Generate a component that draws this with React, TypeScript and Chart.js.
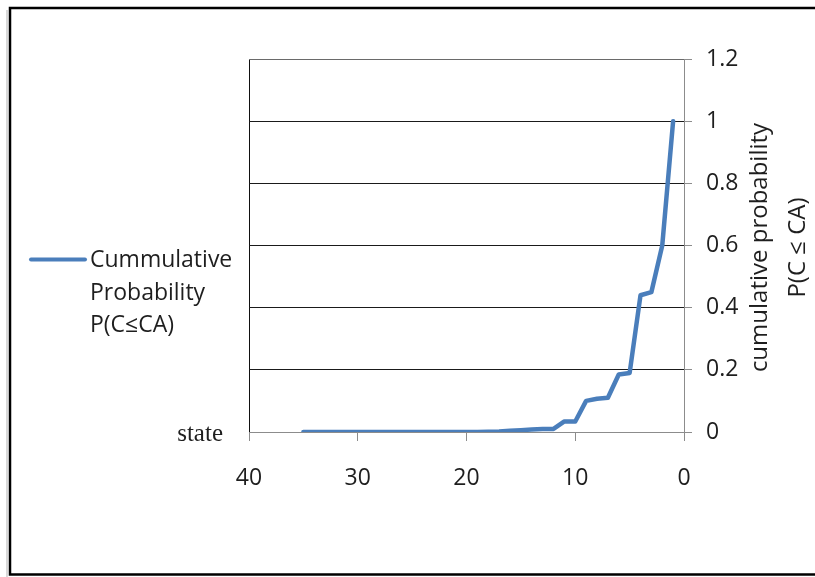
import React, { useEffect, useRef } from "react";
import { Chart, registerables } from "chart.js";

Chart.register(...registerables);

// Data
const stateValues: number[] = [
  1, 2, 3, 4, 5, 6, 7, 8, 9, 10, 11, 12, 13, 14, 15, 16, 17, 18,
  19, 20, 21, 22, 23, 24, 25, 26, 27, 28, 29, 30, 31, 32, 33, 34, 35,
];
const cumulativeProb: number[] = [
  1.0, 0.6, 0.45, 0.44, 0.19, 0.185, 0.11, 0.107, 0.1, 0.034, 0.034, 0.01,
  0.01, 0.008, 0.006, 0.004, 0.002, 0.001,
  0, 0, 0, 0, 0, 0, 0, 0, 0, 0, 0, 0, 0, 0, 0, 0, 0,
];
const xTicks: number[] = [40, 30, 20, 10, 0];
const yTicks: number[] = [0, 0.2, 0.4, 0.6, 0.8, 1, 1.2];

const seriesLabel = "Cummulative Probability P(C≤CA)";
const legendLines = ["Cummulative", "Probability", "P(C≤CA)"];
const yTitleLines = ["cumulative probability", "P(C ≤ CA)"];
const xSideLabel = "state";

const LINE_COLOR = "#4A7EBB";
const TEXT_COLOR = "#1e1e1e";
const SANS = "'Open Sans', sans-serif";

const decorPlugin = {
  id: "decor",
  beforeDraw(chart: any) {
    const ctx = chart.ctx;
    ctx.save();
    ctx.fillStyle = "#ffffff";
    ctx.fillRect(0, 0, chart.width, chart.height);
    ctx.restore();
  },
  afterDraw(chart: any) {
    const ctx = chart.ctx;
    const area = chart.chartArea;
    ctx.save();
    // outer frame (left, top, bottom only)
    ctx.strokeStyle = "rgba(0,0,0,0.15)";
    ctx.lineWidth = 2;
    ctx.beginPath();
    ctx.moveTo(7, 10);
    ctx.lineTo(7, 577);
    ctx.stroke();
    ctx.strokeStyle = "#000000";
    ctx.lineWidth = 2.5;
    ctx.lineCap = "square";
    ctx.beginPath();
    ctx.moveTo(chart.width + 5, 8);
    ctx.lineTo(10, 8);
    ctx.lineTo(10, 574.5);
    ctx.lineTo(chart.width + 5, 574.5);
    ctx.stroke();

    // legend
    ctx.strokeStyle = LINE_COLOR;
    ctx.lineWidth = 4;
    ctx.lineCap = "round";
    ctx.beginPath();
    ctx.moveTo(31, 259.5);
    ctx.lineTo(85, 259.5);
    ctx.stroke();
    ctx.fillStyle = TEXT_COLOR;
    ctx.font = `23px ${SANS}`;
    ctx.textAlign = "left";
    ctx.textBaseline = "alphabetic";
    legendLines.forEach((t, i) => ctx.fillText(t, 90, 267 + i * 32.5));

    // "state" label
    ctx.font = "25px 'Liberation Serif', serif";
    ctx.textAlign = "right";
    ctx.fillText(xSideLabel, 223, 441);

    // right axis title (reads bottom to top)
    ctx.font = `24px ${SANS}`;
    ctx.textAlign = "center";
    const cy = (area.top + area.bottom) / 2 + 2;
    const bx = [767, 805];
    yTitleLines.forEach((t, i) => {
      ctx.save();
      ctx.translate(bx[i], cy);
      ctx.rotate(-Math.PI / 2);
      ctx.fillText(t, 0, 0);
      ctx.restore();
    });
    ctx.restore();
  },
};

export default function App() {
  const canvasRef = useRef<HTMLCanvasElement | null>(null);

  useEffect(() => {
    if (!canvasRef.current) return;
    const points = stateValues.map((x, i) => ({ x, y: cumulativeProb[i] }));
    const chart = new Chart(canvasRef.current, {
      type: "line",
      data: {
        datasets: [
          {
            label: seriesLabel,
            data: points,
            borderColor: LINE_COLOR,
            backgroundColor: LINE_COLOR,
            borderWidth: 4.5,
            pointRadius: 0,
            tension: 0,
            borderJoinStyle: "round",
            borderCapStyle: "round",
            fill: false,
          },
        ],
      },
      options: {
        responsive: false,
        animation: false,
        layout: { padding: { left: 249, top: 59, right: 0, bottom: 0 } },
        plugins: {
          legend: { display: false },
          tooltip: { enabled: false },
          title: { display: false },
        },
        scales: {
          x: {
            type: "linear",
            position: "bottom",
            reverse: true,
            min: 0,
            max: 40,
            afterBuildTicks: (scale: any) => {
              scale.ticks = xTicks.map((v) => ({ value: v }));
            },
            afterFit: (scale: any) => {
              scale.height = 145;
            },
            ticks: {
              color: TEXT_COLOR,
              font: { family: SANS, size: 23 },
              padding: 24,
              maxRotation: 0,
              autoSkip: false,
            },
            grid: {
              color: (c: any) => (c.tick && c.tick.value === 40 ? "#111111" : "rgba(0,0,0,0)"),
              tickColor: "#8c8c8c",
              tickLength: 9,
              lineWidth: 1,
            },
            border: { display: true, color: "#8c8c8c", width: 1 },
          },
          y: {
            type: "linear",
            position: "right",
            min: 0,
            max: 1.2,
            afterBuildTicks: (scale: any) => {
              scale.ticks = yTicks.map((v) => ({ value: v }));
            },
            afterFit: (scale: any) => {
              scale.width = 131;
            },
            ticks: {
              color: TEXT_COLOR,
              font: { family: SANS, size: 23 },
              padding: 14,
              callback: (v: any) => String(Math.round(Number(v) * 10) / 10),
            },
            grid: {
              color: (c: any) => {
                const v = c.tick ? c.tick.value : 0;
                if (v === 0) return "#8c8c8c";
                if (Math.abs(v - 1.2) < 1e-6) return "#6a6a6a";
                return "#1a1a1a";
              },
              tickColor: "#8c8c8c",
              tickLength: 8,
              lineWidth: 1,
            },
            border: { display: true, color: "#8c8c8c", width: 1 },
          },
        },
      },
      plugins: [decorPlugin],
    } as any);
    return () => chart.destroy();
  }, []);

  return (
    <div style={{ position: "fixed", left: 0, top: 0, width: 815, height: 577, background: "#fff" }}>
      <canvas ref={canvasRef} width={815} height={577} style={{ display: "block" }} />
    </div>
  );
}
